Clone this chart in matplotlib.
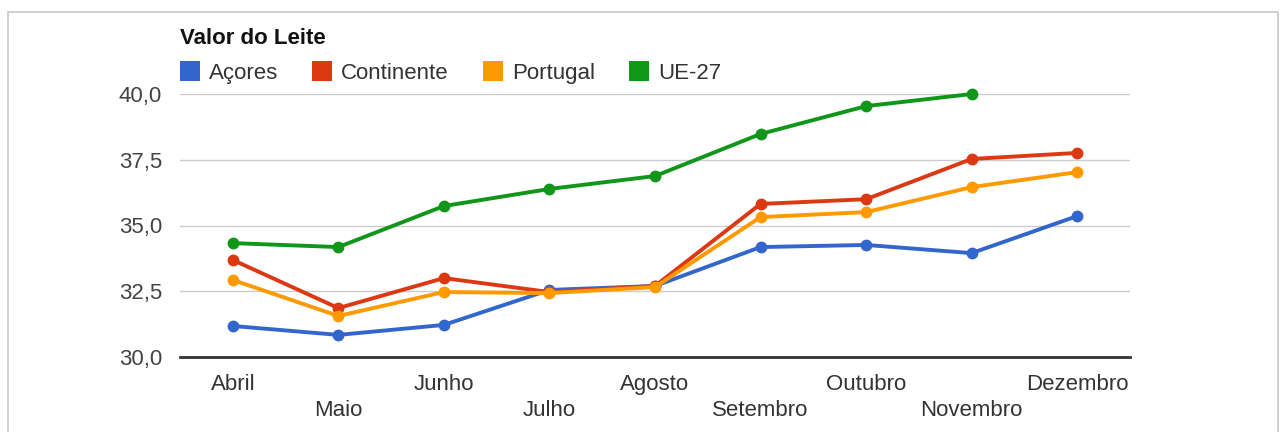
import numpy as np
import matplotlib.pyplot as plt
from matplotlib.patches import Rectangle

plt.rcParams['font.family'] = ['Liberation Sans', 'DejaVu Sans']

# Dados
meses = ['Abril', 'Maio', 'Junho', 'Julho', 'Agosto', 'Setembro',
         'Outubro', 'Novembro', 'Dezembro']
acores = [31.18, 30.84, 31.22, 32.55, 32.70, 34.18, 34.26, 33.95, 35.36]
continente = [33.69, 31.86, 33.00, 32.47, 32.70, 35.82, 36.00, 37.53, 37.76]
portugal = [32.93, 31.56, 32.47, 32.43, 32.66, 35.32, 35.51, 36.46, 37.03]
ue27 = [34.33, 34.18, 35.74, 36.39, 36.88, 38.48, 39.54, 40.00, np.nan]
yticks = [30.0, 32.5, 35.0, 37.5, 40.0]

series = [('Açores', acores, '#3366cc'),
          ('Continente', continente, '#dc3912'),
          ('Portugal', portugal, '#ff9900'),
          ('UE-27', ue27, '#109618')]

W, H = 1285, 432
fig = plt.figure(figsize=(W / 100, H / 100), dpi=100)
fig.patch.set_facecolor('white')

# moldura cinzenta
fig.add_artist(Rectangle((8 / W, -0.05), 1270 / W, 1.05 - 12 / H,
                         transform=fig.transFigure, fill=False,
                         edgecolor='#c8c8c8', lw=1.2))

ax = fig.add_axes([180 / W, 1 - 357 / H, 950 / W, 263 / H])
x = np.arange(len(meses))

for nome, vals, cor in series:
    ax.plot(x, vals, color=cor, lw=2.8, marker='o', ms=7.5, label=nome,
            solid_joinstyle='round', clip_on=False, zorder=3)

ax.set_xlim(-0.5, len(meses) - 0.5)
ax.set_ylim(30, 40)
ax.set_yticks(yticks)
ax.set_yticklabels([f'{v:.1f}'.replace('.', ',') for v in yticks],
                   fontsize=16, color='#444444')
ax.grid(axis='y', color='#cccccc', lw=1)
ax.set_axisbelow(True)
for s in ['top', 'right', 'left']:
    ax.spines[s].set_visible(False)
ax.spines['bottom'].set_color('#333333')
ax.spines['bottom'].set_linewidth(2)
ax.tick_params(axis='both', length=0)
ax.tick_params(axis='y', pad=13)

ax.set_xticks(x)
ax.set_xticklabels([])
for i, m in enumerate(meses):
    yy = -0.105 if i % 2 == 0 else -0.205
    ax.text(i, yy, m, transform=ax.get_xaxis_transform(), ha='center',
            va='center', fontsize=16, color='#333333')

fig.text(180 / W, 1 - 36 / H, 'Valor do Leite', fontsize=16,
         fontweight='bold', va='center_baseline', ha='left', color='#111111')

# legenda manual: quadrado + texto
fig.canvas.draw()
r = fig.canvas.get_renderer()
xpos = 180
ycen = 1 - 71 / H
sz = 20
for nome, _, cor in series:
    fig.add_artist(Rectangle((xpos / W, ycen - sz / 2 / H), sz / W, sz / H,
                             transform=fig.transFigure, facecolor=cor,
                             edgecolor='none'))
    t = fig.text((xpos + sz + 9) / W, ycen, nome, fontsize=16,
                 va='center_baseline', ha='left', color='#333333')
    bb = t.get_window_extent(renderer=r)
    xpos = bb.x1 + 34

fig.savefig('out.png', dpi=100)
